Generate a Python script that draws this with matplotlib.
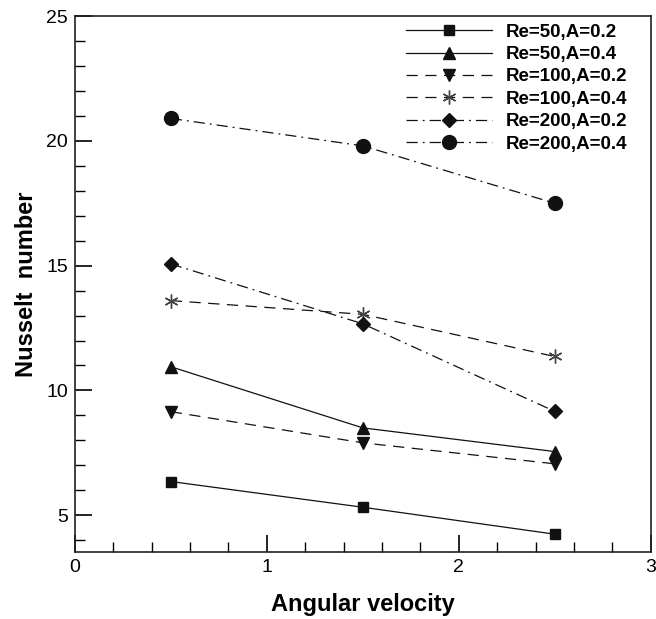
import matplotlib
matplotlib.use('agg')
import matplotlib.pyplot as plt
from matplotlib.ticker import MultipleLocator

plt.rcParams['font.family'] = ['Liberation Sans', 'DejaVu Sans']

# angular velocity values
omega = [0.5, 1.5, 2.5]
# Nusselt numbers per case
re50_a02 = [6.35, 5.32, 4.24]
re50_a04 = [10.95, 8.5, 7.55]
re100_a02 = [9.15, 7.9, 7.06]
re100_a04 = [13.6, 13.05, 11.36]
re200_a02 = [15.07, 12.67, 9.16]
re200_a04 = [20.9, 19.8, 17.5]
labels = ['Re=50,A=0.2', 'Re=50,A=0.4', 'Re=100,A=0.2',
          'Re=100,A=0.4', 'Re=200,A=0.2', 'Re=200,A=0.4']

dash = (0, (9, 6))
dashdot = (0, (9, 4, 1.5, 4))

fig = plt.figure(figsize=(6.56, 6.19), dpi=100)
ax = fig.add_axes([0.114, 0.108, 0.878, 0.866])

lw = 0.9
ax.plot(omega, re50_a02, color='#111111', lw=lw, ls='-', marker='s', ms=7, label=labels[0])
ax.plot(omega, re50_a04, color='#111111', lw=lw, ls='-', marker='^', ms=8, label=labels[1])
ax.plot(omega, re100_a02, color='#111111', lw=lw, ls=dash, marker='v', ms=8, label=labels[2])
ax.plot(omega, re100_a04, color='#111111', lw=lw, ls=dash, marker=(6, 2, 0), ms=10,
        mec='#444444', mew=1.0, label=labels[3])
ax.plot(omega, re200_a02, color='#111111', lw=lw, ls=dashdot, marker='D', ms=7, label=labels[4])
ax.plot(omega, re200_a04, color='#111111', lw=lw, ls=dashdot, marker='o', ms=10, label=labels[5])

ax.set_xlim(0, 3)
ax.set_ylim(3.52, 25)
ax.xaxis.set_major_locator(MultipleLocator(1))
ax.xaxis.set_minor_locator(MultipleLocator(0.2))
ax.yaxis.set_major_locator(MultipleLocator(5))
ax.yaxis.set_minor_locator(MultipleLocator(1))
ax.tick_params(which='both', direction='in', top=False, right=False, labelsize=14, pad=5)
ax.tick_params(which='major', length=12, width=1.2)
ax.tick_params(which='minor', length=7, width=1.0)
for s in ax.spines.values():
    s.set_linewidth(1.2)
    s.set_color('#222222')

ax.set_xlabel('Angular velocity', fontsize=17, fontweight='bold', labelpad=12)
ax.set_ylabel('Nusselt  number', fontsize=17, fontweight='bold', labelpad=6)

leg = ax.legend(loc='upper right', bbox_to_anchor=(0.972, 1.0), frameon=False,
                handlelength=4.6, prop={'weight': 'bold', 'size': 13.5},
                labelspacing=0.28, borderaxespad=0, handletextpad=0.7)

fig.savefig('out.png', dpi=100)
